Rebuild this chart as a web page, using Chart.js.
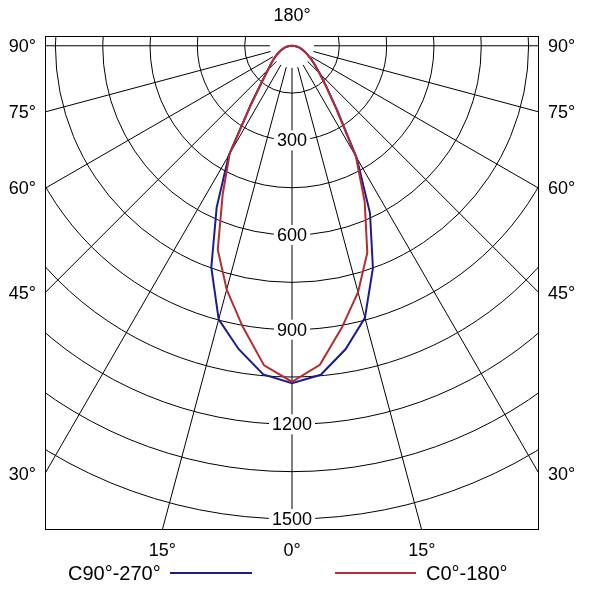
<!DOCTYPE html>
<html>
<head>
<meta charset="utf-8">
<script src="https://cdn.jsdelivr.net/npm/chart.js@4.4.1/dist/chart.umd.min.js"></script>
<style>
    html, body { margin: 0; padding: 0; background: #fff; }
    #wrap { width: 598px; height: 591px; }
</style>
</head>
<body>
<div id="wrap"><canvas id="myChart" width="598" height="591"></canvas></div>
<script>
// Gamma angles (deg) of the measured intensities
const gammaAngles = [0, 5, 10, 15, 20, 25, 30, 35, 40, 45, 50, 55, 60, 65, 70, 75, 80, 85, 90];

// Luminous intensity (cd) per C-plane
const c90  = [1070, 1047, 977, 893, 750, 585, 410, 250, 170, 125, 95, 75, 58, 45, 35, 26, 17, 9, 0];
const c270 = [1070, 1046, 976, 898, 748, 565, 400, 228, 148, 108, 86, 69, 55, 43, 33, 25, 17, 9, 0];
const c0   = [1065, 1015, 908, 809, 698, 545, 405, 245, 168, 123, 94, 74, 57, 44, 34, 26, 17, 9, 0];
const c180 = [1065, 1017, 903, 800, 688, 520, 395, 225, 146, 106, 85, 68, 55, 43, 33, 25, 17, 9, 0];

// Grid
const circleValues = [150, 300, 450, 600, 750, 900, 1050, 1200, 1350, 1500];
const radialLabels = [300, 600, 900, 1200, 1500];
const spokeAngles = [0, 15, 30, 45, 60, 75, 90];
const topLabel = '180°';

// Legend
const legendLabels = ['C90°-270°', 'C0°-180°'];
const seriesColors = ['#1c1c90', '#b42c30'];

// Build a closed polar curve: left half-plane, then right half-plane
function planePoints(leftVals, rightVals) {
    let pts = [];
    for (let i = gammaAngles.length - 1; i >= 0; i--) {
        let g = gammaAngles[i] * Math.PI / 180;
        pts.push({ x: -leftVals[i] * Math.sin(g), y: -leftVals[i] * Math.cos(g) });
    }
    for (let i = 0; i < gammaAngles.length; i++) {
        let g = gammaAngles[i] * Math.PI / 180;
        pts.push({ x: rightVals[i] * Math.sin(g), y: -rightVals[i] * Math.cos(g) });
    }
    return pts;
}

const tickFont = '18px "Liberation Sans", Arial, sans-serif';
const legendFont = '20px "Liberation Sans", Arial, sans-serif';

// Polar grid, labels and legend drawn on the cartesian scales
const polarGrid = {
    id: 'polarGrid',
    beforeDatasetsDraw(chart) {
        const { ctx, chartArea: a, scales: { x, y } } = chart;
        const cx = x.getPixelForValue(0);
        const cy = y.getPixelForValue(0);
        const k = (x.getPixelForValue(1000) - cx) / 1000; // px per cd

        ctx.save();
        ctx.beginPath();
        ctx.rect(a.left, a.top, a.right - a.left, a.bottom - a.top);
        ctx.clip();
        ctx.strokeStyle = '#000';
        ctx.lineWidth = 1;

        circleValues.forEach(function(v) {
            ctx.beginPath();
            ctx.arc(cx, cy, v * k, 0, 2 * Math.PI);
            ctx.stroke();
        });

        spokeAngles.forEach(function(deg) {
            let g = deg * Math.PI / 180;
            [1, -1].forEach(function(side) {
                if (deg === 0 && side === -1) return;
                let r0 = 70 * k, r1 = 3000 * k;
                ctx.beginPath();
                ctx.moveTo(cx + side * r0 * Math.sin(g), cy + r0 * Math.cos(g));
                ctx.lineTo(cx + side * r1 * Math.sin(g), cy + r1 * Math.cos(g));
                ctx.stroke();
            });
        });

        // Radial value labels on the 0° spoke
        ctx.font = tickFont;
        ctx.textAlign = 'center';
        ctx.textBaseline = 'middle';
        radialLabels.forEach(function(v) {
            let py = y.getPixelForValue(-v);
            let w = ctx.measureText(String(v)).width + 6;
            ctx.fillStyle = '#fff';
            ctx.fillRect(cx - w / 2, py - 10, w, 20);
            ctx.fillStyle = '#000';
            ctx.fillText(String(v), cx, py + 1);
        });
        ctx.restore();
    },
    afterDraw(chart) {
        const { ctx, chartArea: a, scales: { x, y } } = chart;
        const cx = x.getPixelForValue(0);
        const cy = y.getPixelForValue(0);

        ctx.save();
        ctx.strokeStyle = '#000';
        ctx.lineWidth = 1;
        ctx.strokeRect(a.left + 0.5, a.top + 0.5, a.right - a.left - 1, a.bottom - a.top - 1);

        ctx.font = tickFont;
        ctx.fillStyle = '#000';
        ctx.textBaseline = 'middle';

        ctx.textAlign = 'center';
        ctx.fillText(topLabel, cx, a.top - 20);

        spokeAngles.forEach(function(deg) {
            let g = deg * Math.PI / 180;
            let label = deg + '°';
            let s = Math.sin(g), c = Math.cos(g);
            let sideY = s > 0 ? cy + (a.right - cx) / s * c : Infinity;
            if (sideY <= a.bottom) {
                ctx.textAlign = 'right';
                ctx.fillText(label, a.left - 9, sideY + 1);
                ctx.textAlign = 'left';
                ctx.fillText(label, a.right + 9, sideY + 1);
            } else {
                let dx = (a.bottom - cy) / c * s;
                ctx.textAlign = 'center';
                ctx.fillText(label, cx + dx, a.bottom + 21);
                if (deg !== 0) ctx.fillText(label, cx - dx, a.bottom + 21);
            }
        });

        // Legend
        let ly = a.bottom + 44;
        ctx.font = legendFont;
        ctx.lineWidth = 2;
        ctx.textAlign = 'left';
        ctx.fillStyle = '#000';
        ctx.fillText(legendLabels[0], 68, ly);
        ctx.strokeStyle = seriesColors[0];
        ctx.beginPath();
        ctx.moveTo(170, ly - 1);
        ctx.lineTo(252, ly - 1);
        ctx.stroke();

        ctx.strokeStyle = seriesColors[1];
        ctx.beginPath();
        ctx.moveTo(335, ly - 1);
        ctx.lineTo(416, ly - 1);
        ctx.stroke();
        ctx.fillText(legendLabels[1], 426, ly);
        ctx.restore();
    }
};

const ctx = document.getElementById('myChart').getContext('2d');
const myChart = new Chart(ctx, {
    type: 'scatter',
    data: {
        datasets: [
            {
                label: legendLabels[0],
                data: planePoints(c270, c90),
                borderColor: seriesColors[0],
                borderWidth: 2,
                showLine: true,
                pointRadius: 0,
                fill: false,
                order: 2, // drawn first, under the red curve
            },
            {
                label: legendLabels[1],
                data: planePoints(c180, c0),
                borderColor: seriesColors[1],
                borderWidth: 2,
                showLine: true,
                pointRadius: 0,
                fill: false,
                order: 1,
            },
        ],
    },
    options: {
        responsive: false,
        animation: false,
        layout: {
            padding: { left: 45, right: 59, top: 36, bottom: 61 }
        },
        plugins: {
            legend: { display: false },
            tooltip: { enabled: false }
        },
        scales: {
            x: { type: 'linear', min: -783, max: 783, display: false },
            y: { type: 'linear', min: -1535, max: 31, display: false }
        }
    },
    plugins: [polarGrid]
});
</script>
</body>
</html>
